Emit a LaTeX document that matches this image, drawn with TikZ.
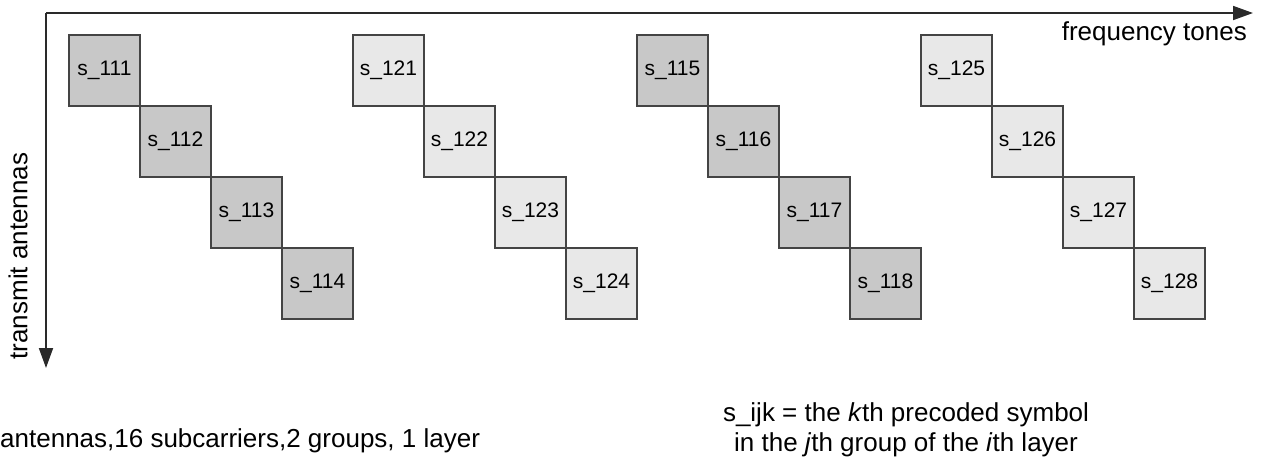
\documentclass[tikz,border=0pt]{standalone}
\usepackage{fontspec}
\setmainfont{Liberation Sans}
\usetikzlibrary{arrows.meta}
\definecolor{cellDark}{HTML}{C8C8C8}
\definecolor{cellLight}{HTML}{E8E8E8}
\definecolor{edge}{HTML}{444444}
\definecolor{axisc}{HTML}{2A2A2A}
\tikzset{
  cell/.style={draw=edge, line width=1.6pt, minimum size=71pt, inner sep=0pt,
    font=\fontsize{21}{25}\selectfont},
  axisline/.style={draw=axisc, line width=1.8pt, -{Triangle[length=20pt,width=14pt]}},
  label/.style={font=\fontsize{26}{30}\selectfont, inner sep=0pt}
}
\begin{document}
\begin{tikzpicture}[x=1pt,y=-1pt]
\useasboundingbox (0,0) rectangle (1264,467);
% axes
\coordinate (origin) at (46,13);
\coordinate (fend) at (1253,13);
\coordinate (aend) at (46,368);
\draw[axisline] (origin) -- (fend);
\draw[axisline] (origin) -- (aend);
\node[label, anchor=east] (ftones) at (1247,34) {frequency tones};
\node[label, rotate=90] (tant) at (18,256) {transmit antennas};
% symbol cells, one diagonal staircase per group
\foreach \g/\lab/\col in {0/11/cellDark, 1/12/cellLight, 2/11/cellDark, 3/12/cellLight}{
  \foreach \k in {0,...,3}{
    \pgfmathtruncatemacro{\idx}{\g<2 ? \k+1 : \k+5}
    \pgfmathsetmacro{\cx}{69+71*(4*\g+\k)+35.5}
    \pgfmathsetmacro{\cy}{35+71*\k+35.5}
    \node[cell, fill=\col] (b\g\k) at (\cx,\cy) {s\_\lab\idx};
  }
}
% captions
\node[label, anchor=west] (setup) at (0,441) {antennas,16 subcarriers,2 groups, 1 layer};
\node[label, align=center] (legend) at (906,430)
  {s\_ijk = the \textit{k}th precoded symbol\\in the \textit{j}th group of the \textit{i}th layer};
\end{tikzpicture}
\end{document}
